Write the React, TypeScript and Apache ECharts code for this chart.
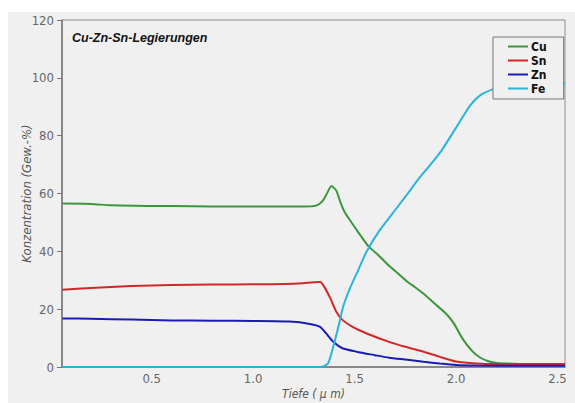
import React, { useEffect, useRef } from "react";
import * as echarts from "echarts";

const cuDepth = [0.06, 0.2, 0.3, 0.5, 0.7, 0.9, 1.1, 1.25, 1.31, 1.34, 1.36, 1.386, 1.41, 1.43, 1.45, 1.48, 1.51, 1.57, 1.62, 1.67, 1.72, 1.76, 1.8, 1.84, 1.9, 1.95, 1.99, 2.03, 2.08, 2.12, 2.16, 2.2, 2.3, 2.4, 2.5, 2.537];
const cuValues = [56.5, 56.4, 55.9, 55.7, 55.6, 55.5, 55.5, 55.5, 55.8, 57.2, 59.5, 62.6, 61, 57, 53.7, 50.5, 47.4, 41.6, 38.5, 35, 32, 29.5, 27.5, 25.3, 21.6, 18.5, 15, 10, 5.5, 3.2, 2, 1.4, 1.1, 1, 1, 1];

const snDepth = [0.06, 0.2, 0.4, 0.6, 0.8, 1.0, 1.2, 1.3, 1.33, 1.35, 1.38, 1.41, 1.44, 1.49, 1.56, 1.67, 1.75, 1.84, 1.92, 2.0, 2.1, 2.2, 2.3, 2.5, 2.537];
const snValues = [26.7, 27.3, 28.0, 28.4, 28.5, 28.6, 28.8, 29.3, 29.4, 27.8, 23.8, 19.1, 16.3, 13.9, 11.6, 8.7, 7, 5.3, 3.5, 1.9, 1.2, 1.0, 1.0, 1.0, 1.0];

const znDepth = [0.06, 0.2, 0.4, 0.6, 0.8, 1.0, 1.18, 1.28, 1.33, 1.36, 1.395, 1.44, 1.51, 1.6, 1.67, 1.76, 1.84, 1.92, 2.0, 2.1, 2.3, 2.537];
const znValues = [16.8, 16.7, 16.4, 16.1, 16.0, 15.9, 15.7, 14.9, 13.9, 11.6, 8.7, 6.5, 5.3, 4.1, 3.2, 2.5, 1.8, 1.2, 0.7, 0.5, 0.4, 0.4];

const feDepth = [0.06, 0.5, 1.0, 1.3, 1.345, 1.37, 1.395, 1.42, 1.444, 1.477, 1.518, 1.559, 1.625, 1.707, 1.76, 1.82, 1.88, 1.93, 2.02, 2.07, 2.12, 2.18, 2.25, 2.35, 2.45, 2.537];
const feValues = [0, 0, 0, 0, 0.2, 1.3, 7, 13.9, 20.9, 27.2, 33.5, 39.9, 47.4, 54.9, 59.8, 65.5, 70.5, 75, 85, 90.5, 94, 96, 97.5, 98, 98, 98];

const seriesNames = ["Cu", "Sn", "Zn", "Fe"];
const seriesColors = ["#3c963c", "#d02828", "#1c1cb4", "#28b4dc"];
const xTickLabels = [0.5, 1.0, 1.5, 2.0, 2.5];
const yTickLabels = [0, 20, 40, 60, 80, 100, 120];

const title = "Cu-Zn-Sn-Legierungen";
const xName = "Tiefe ( µ m)";
const yName = "Konzentration (Gew.-%)";

const FONT = "'Liberation Sans Narrow', 'DejaVu Sans Condensed', 'Liberation Sans', Arial, sans-serif";

function pairs(xs: number[], ys: number[]) {
  return xs.map((x, i) => [x, ys[i]]);
}

export default function App() {
  const ref = useRef<HTMLDivElement>(null);
  useEffect(() => {
    if (!ref.current) return;
    const chart = echarts.init(ref.current, undefined, { renderer: "svg" });
    const datasets = [
      pairs(cuDepth, cuValues),
      pairs(snDepth, snValues),
      pairs(znDepth, znValues),
      pairs(feDepth, feValues),
    ];
    chart.setOption({
      animation: false,
      backgroundColor: "#f0f0f0",
      textStyle: { fontFamily: FONT },
      grid: {
        left: 54,
        top: 8,
        right: 10,
        bottom: 36,
        containLabel: false,
        outerBoundsMode: "none",
        show: true,
        borderColor: "#8a8a8a",
        borderWidth: 1,
        backgroundColor: "transparent",
      },
      graphic: [
        {
          type: "text",
          left: 64,
          top: 19,
          style: {
            text: title,
            fontFamily: "'Liberation Sans', Arial, sans-serif",
            fontWeight: "bold",
            fontStyle: "italic",
            fontSize: 12.5,
            fill: "#111",
          },
        },
      ],
      legend: {
        orient: "vertical",
        left: 485,
        top: 25,
        align: "left",
        icon: "rect",
        padding: [3, 17, 4, 15],
        itemGap: 1,
        itemWidth: 20,
        itemHeight: 2,
        borderColor: "#777",
        borderWidth: 1,
        backgroundColor: "#f0f0f0",
        textStyle: {
          fontFamily: FONT,
          fontWeight: "bold",
          fontSize: 12,
          lineHeight: 13,
          color: "#111",
          padding: [0, 0, 0, -2],
        },
        data: seriesNames,
      },
      xAxis: {
        type: "value",
        min: 0.058,
        max: 2.537,
        name: xName,
        nameLocation: "middle",
        nameGap: 21,
        nameMoveOverlap: false,
        nameTextStyle: { fontStyle: "italic", color: "#555", fontSize: 12, fontFamily: FONT },
        axisLine: { show: true, lineStyle: { color: "#777", width: 1.5 } },
        axisTick: { show: false },
        splitLine: { show: false },
        axisLabel: {
          customValues: xTickLabels,
          formatter: (v: number) => v.toFixed(1),
          color: "#666",
          fontSize: 13,
          margin: 5,
          fontFamily: FONT,
        },
      },
      yAxis: {
        type: "value",
        min: 0,
        max: 120,
        interval: 20,
        name: yName,
        nameLocation: "middle",
        nameGap: 29,
        nameMoveOverlap: false,
        nameTextStyle: { fontStyle: "italic", color: "#555", fontSize: 13, fontFamily: FONT },
        axisLine: { show: true, lineStyle: { color: "#777", width: 1.5 } },
        axisTick: { show: true, length: 5, lineStyle: { color: "#777" } },
        splitLine: { show: false },
        axisLabel: {
          customValues: yTickLabels,
          color: "#666",
          fontSize: 13,
          margin: 8,
          fontFamily: FONT,
        },
      },
      series: seriesNames.map((name, i) => ({
        name,
        type: "line",
        data: datasets[i],
        symbol: "none",
        smooth: 0.2,
        color: seriesColors[i],
        lineStyle: { width: 2, color: seriesColors[i] },
        z: i === 3 ? 3 : 2,
      })),
    });
    return () => chart.dispose();
  }, []);
  return (
    <div
      style={{
        position: "fixed",
        left: 0,
        top: 0,
        width: 575,
        height: 403,
        background: "#fff",
        overflow: "hidden",
      }}
    >
      <div
        ref={ref}
        style={{ position: "absolute", left: 8, top: 12, width: 567, height: 391 }}
      />
    </div>
  );
}
